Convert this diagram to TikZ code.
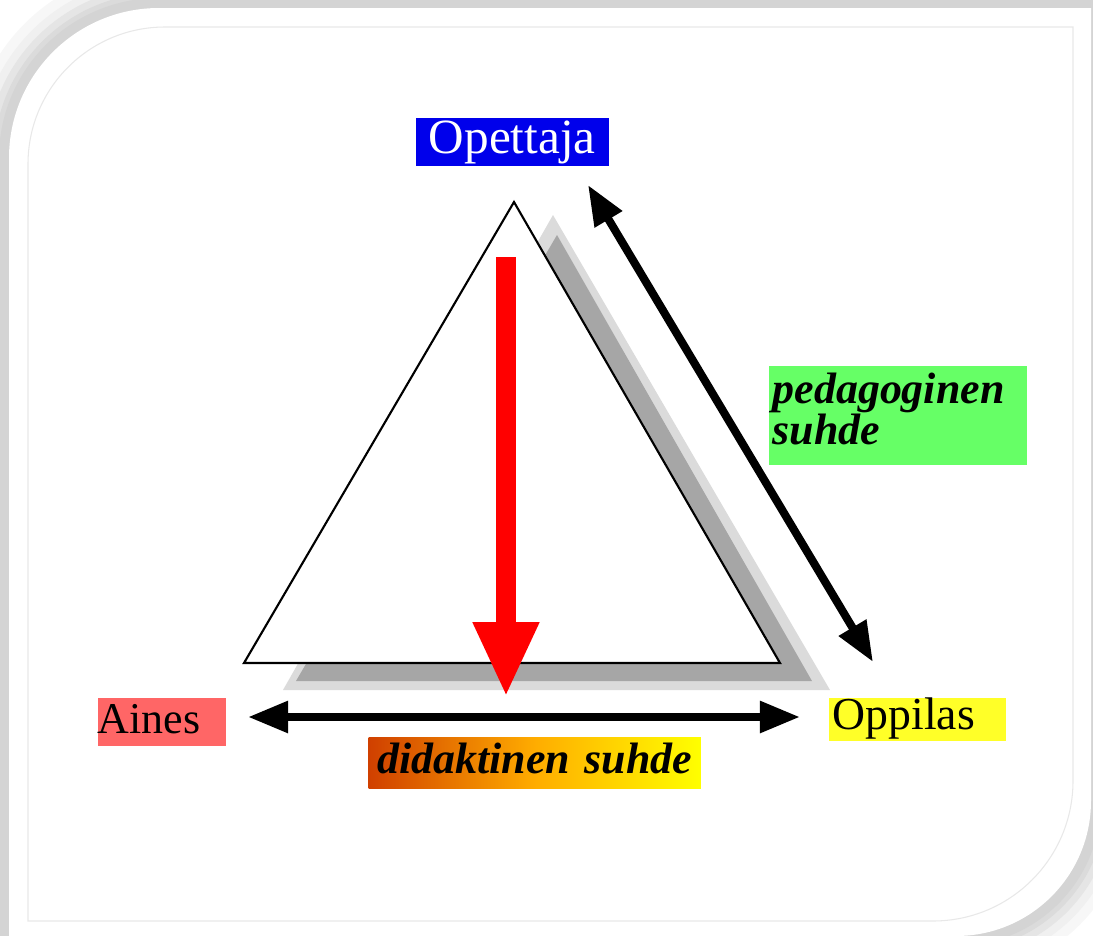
\documentclass[tikz,border=0pt]{standalone}
\usepackage{fontspec}
\setmainfont{Liberation Serif}
\usetikzlibrary{arrows.meta}

\definecolor{opblue}{RGB}{0,0,235}
\definecolor{ainesred}{RGB}{255,102,102}
\definecolor{oppyellow}{RGB}{255,255,40}
\definecolor{pedgreen}{RGB}{102,255,102}
\definecolor{didorange}{RGB}{208,64,0}
\definecolor{didmid}{RGB}{255,172,0}

\begin{document}
\begin{tikzpicture}[
    x=0.01cm,
    y=-0.01cm,
    frame/.style={draw=black!9, line width=0.3pt},
    corner/.style={draw=black, line width=0.6pt, fill=white},
    relation/.style={black, line width=2.3pt,
        {Triangle[length=11.4pt,width=8.6pt]}-{Triangle[length=11.4pt,width=8.6pt]}},
    flow/.style={red, line width=5.7pt, -{Triangle[length=21.3pt,width=17.4pt]}},
    role/.style={inner sep=0pt, anchor=north west, text height=10.2pt, text depth=3.4pt},
    relbox/.style={inner sep=0pt, anchor=north west,
        font=\fontsize{12.5}{11.5}\selectfont\bfseries\itshape}
]

% =========================================================
% PARAMETRI
% =========================================================

\def\cardpath{(9,936) -- (9,158) arc[start angle=180,end angle=270,radius=150]
    -- (1091,8) -- (1091,801) arc[start angle=0,end angle=90,radius=135] -- cycle}

\useasboundingbox (0,0) rectangle (1093,936);
\clip (0,0) rectangle (1093,936);

% =========================================================
% KORTTI
% =========================================================

% Varjo
\foreach \w/\c in {8mm/3,6mm/6,4.4mm/10,3mm/14,2mm/17}
    \draw[black!\c, line width=\w] \cardpath;

% Pohja
\fill[white] \cardpath;

% Sisareuna
\draw[frame] (28,921) -- (28,164) arc[start angle=180,end angle=270,radius=137]
    -- (1073,27) -- (1073,781) arc[start angle=0,end angle=90,radius=140] -- cycle;

% =========================================================
% KOLMIO
% =========================================================

\coordinate (apex)  at (514,202);
\coordinate (left)  at (244,663);
\coordinate (right) at (780,663);

% Varjot
\fill[black!14] (283,690) -- (553,215) -- (830,690) -- cycle;
\fill[black!35] (296,681) -- (557,235) -- (812,681) -- cycle;

% Kolmio
\draw[corner] (left) -- (apex) -- (right) -- cycle;

% =========================================================
% NUOLET
% =========================================================

\coordinate (flowS) at (506,257);
\coordinate (flowE) at (506,697);
\coordinate (didL)  at (248,717);
\coordinate (didR)  at (800,717);
\coordinate (pedT)  at (588,185);
\coordinate (pedB)  at (873,662);

\draw[flow] (flowS) -- (flowE);
\draw[relation] (didL) -- (didR);
\draw[relation] (pedT) -- (pedB);

% =========================================================
% ETIKETIT
% =========================================================

\node[role, fill=opblue, text=white, text width=1.93cm, align=center,
    font=\fontsize{14}{16}\selectfont] (opettaja) at (415,117) {Opettaja};

\node[role, fill=ainesred, text width=1.28cm, align=left,
    font=\fontsize{12.5}{14}\selectfont] (aines) at (97,697) {Aines};

\node[role, fill=oppyellow, inner xsep=1.1pt, text width=1.69cm, align=left,
    text height=9.1pt, text depth=3.1pt,
    font=\fontsize{13}{15}\selectfont] (oppilas) at (828,697) {Oppilas};

\node[relbox, fill=pedgreen, inner xsep=1.1pt, text width=2.5cm, align=left,
    text height=10.8pt, text depth=17.3pt] (pedagog) at (768,365) {pedagoginen\\suhde};

\node[relbox, left color=didorange, right color=yellow, middle color=didmid,
    text width=3.32cm, align=center, text height=10.2pt, text depth=4.3pt]
    (didakt) at (368,737) {didaktinen suhde};

\end{tikzpicture}
\end{document}
